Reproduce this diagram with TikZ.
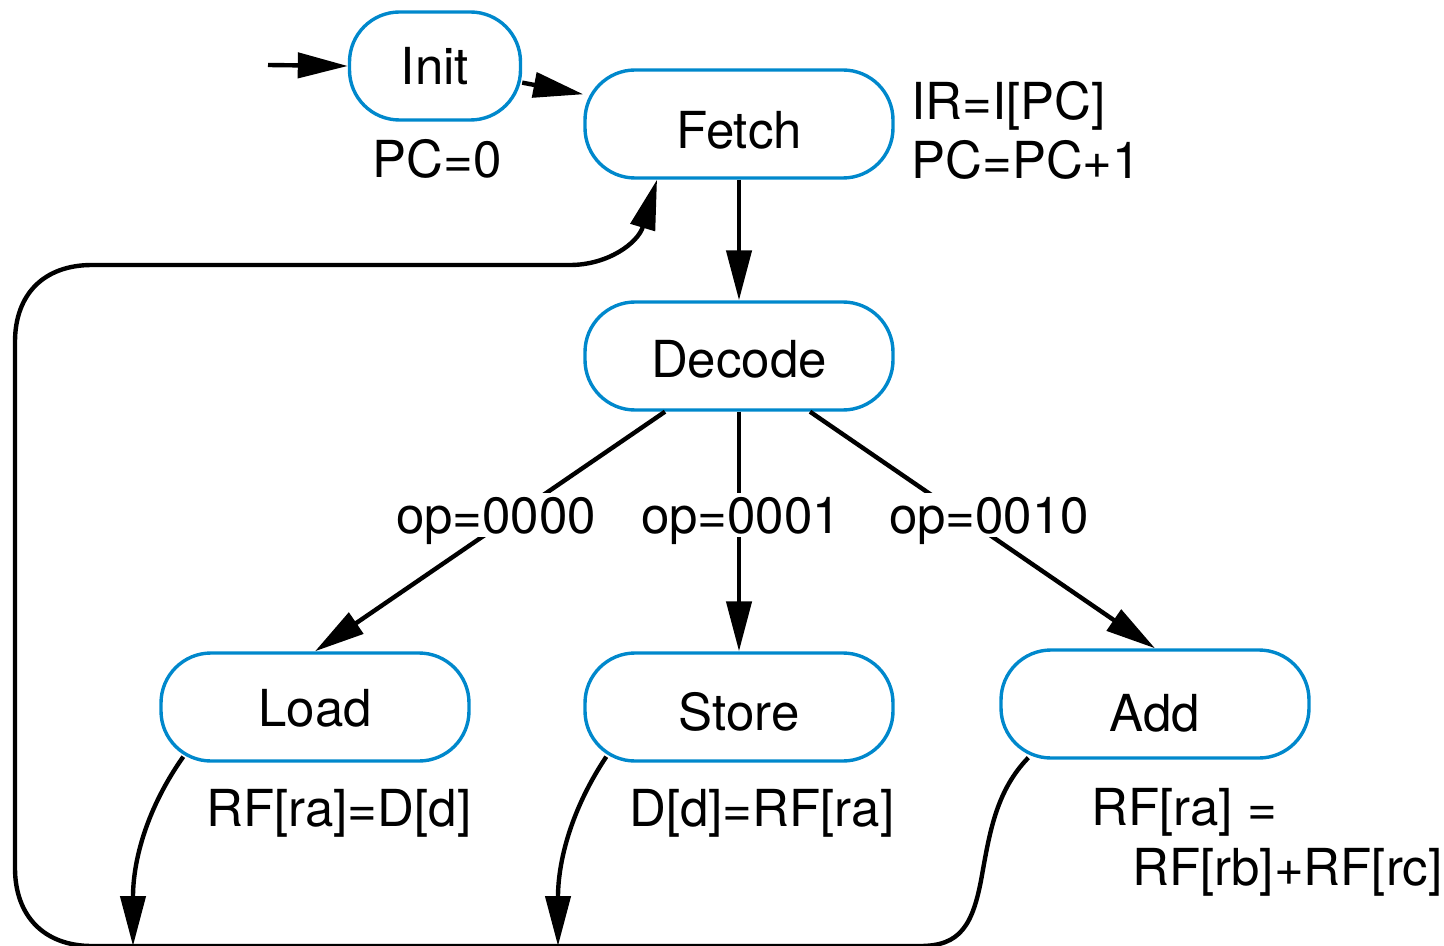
\documentclass[tikz,border=0pt]{standalone}
\usepackage{fontspec}
\setmainfont{TeX Gyre Heros}
\usetikzlibrary{arrows.meta,calc}
\definecolor{stateblue}{RGB}{0,136,204}
\begin{document}
\begin{tikzpicture}[x=0.5pt,y=-0.5pt,
  every node/.style={font=\fontsize{25.5}{30}\selectfont},
  state/.style={draw=stateblue,line width=1.7pt,rounded corners=25pt,
    minimum width=154pt,minimum height=54pt,inner sep=0pt,text depth=0pt,fill=white},
  lbl/.style={inner sep=0pt},
  oplbl/.style={inner xsep=1pt,inner ysep=2pt,text depth=0pt,fill=white,anchor=base},
  conn/.style={line width=2.2pt,-{Triangle[length=25pt,width=12.5pt]}}]
\useasboundingbox (0,0) rectangle (1444,946);

% states
\node[state,minimum width=85.5pt,text height=19pt] (init) at (435,66) {Init};
\node[state,text height=25pt] (fetch) at (739,124) {Fetch};
\node[state,text height=22pt] (decode) at (739,356) {Decode};
\node[state,text height=19pt] (load) at (315,707) {Load};
\node[state,text height=23pt] (store) at (739,707) {Store};
\node[state,text height=27pt] (add) at (1155,704) {Add};

\coordinate (start) at (268,65);
\coordinate (lend) at (133,946);
\coordinate (send) at (558,946);

% connectors
\draw[conn] (start) -- (init.west);
\draw[conn] (init) -- (fetch);
\draw[conn] (fetch) -- (decode);
\draw[conn] ($(decode.south)+(-74,0)$) -- (load.north);
\draw[conn] (decode) -- (store);
\draw[conn] ($(decode.south)+(71,0)$) -- (add.north);

\draw[conn] ($(load.south west)+(24,-6)$) .. controls (147,808) and (133,860) .. (lend);
\draw[conn] ($(store.south west)+(23,-6)$) .. controls (572,808) and (558,860) .. (send);

\draw[conn] ($(add.south west)+(29,-2)$)
   .. controls (997,790) and (990,830) .. (982,875)
   .. controls (973,926) and (960,946) .. (920,946)
   -- (92,946)
   .. controls (44,946) and (15,916) .. (15,868)
   -- (15,342)
   .. controls (15,294) and (44,265) .. (92,265)
   -- (570,265)
   .. controls (608,265) and (638,243) .. ($(fetch.south)+(-82,0)$);

% labels
\node[lbl,anchor=base] (pc0) at (437,178) {PC=0};
\node[lbl,anchor=base west] (ir) at (911,120) {IR=I[PC]};
\node[lbl,anchor=base west] (pcinc) at (911,179) {PC=PC+1};
\node[oplbl] (op0) at (496,533) {op=0000};
\node[oplbl] (op1) at (741,533) {op=0001};
\node[oplbl] (op2) at (989,533) {op=0010};
\node[lbl,anchor=base west] (ldact) at (206,826) {RF[ra]=D[d]};
\node[lbl,anchor=base west] (stact) at (629,826) {D[d]=RF[ra]};
\node[lbl,anchor=base west] (addact1) at (1091,825) {RF[ra] =};
\node[lbl,anchor=base west] (addact2) at (1132,885) {RF[rb]+RF[rc]};
\end{tikzpicture}
\end{document}
